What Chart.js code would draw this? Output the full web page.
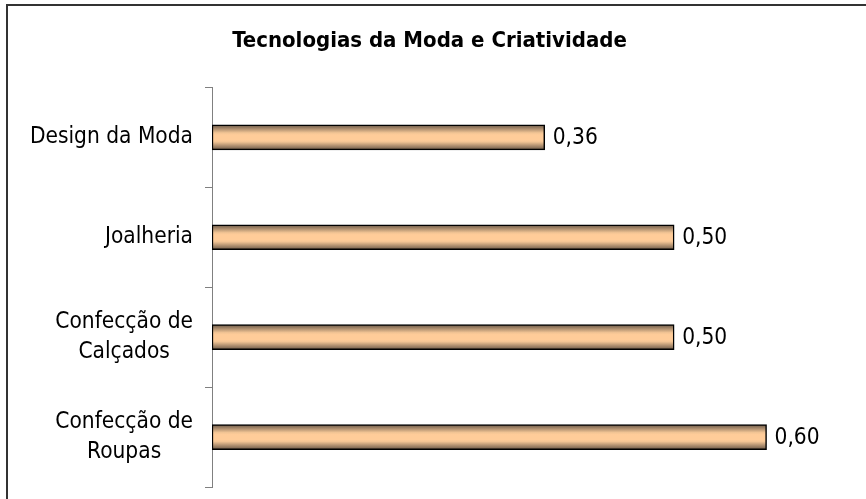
<!DOCTYPE html>
<html>
<head>
<meta charset="utf-8">
<script src="https://cdn.jsdelivr.net/npm/chart.js@4.4.1/dist/chart.umd.min.js"></script>
<style>
html,body{margin:0;padding:0;background:#fff;overflow:hidden;}
#frame{position:absolute;left:6px;top:4px;width:900px;height:560px;border:2px solid #333;pointer-events:none;}
#chart{position:absolute;left:0;top:0;}
</style>
</head>
<body>
<canvas id="chart" width="866" height="499"></canvas>
<div id="frame"></div>
<script>
/* data */
const categories = ["Design da Moda", "Joalheria", ["Confecção de", "Calçados"], ["Confecção de", "Roupas"]];
const values = [0.36, 0.50, 0.50, 0.60];
const chartTitle = "Tecnologias da Moda e Criatividade";

const FONT = "'DejaVu Sans Condensed', 'DejaVu Sans', sans-serif";
const BAR_H = 25;
const LABEL_SIZE = 22.5;
const LINE_H = 30;

/* striped bar fill, built per bar from the y scale */
function barFill(context) {
  const chart = context.chart;
  const area = chart.chartArea;
  if (!area) return "#FFCC99";
  const y = chart.scales.y.getPixelForValue(context.dataIndex);
  const g = chart.ctx.createLinearGradient(0, y - BAR_H / 2, 0, y + BAR_H / 2);
  g.addColorStop(0, "#6b5846");
  g.addColorStop(0.15, "#a88a6c");
  g.addColorStop(0.32, "#f2c494");
  g.addColorStop(0.4, "#ffcc99");
  g.addColorStop(0.6, "#ffcc99");
  g.addColorStop(0.68, "#f2c494");
  g.addColorStop(0.85, "#a88a6c");
  g.addColorStop(1, "#6b5846");
  return g;
}

/* category labels: block right aligned, lines centred inside the block */
const categoryLabels = {
  id: "categoryLabels",
  afterDraw(chart) {
    const ctx = chart.ctx;
    const yScale = chart.scales.y;
    const right = yScale.right - 19;
    ctx.save();
    ctx.font = LABEL_SIZE + "px " + FONT;
    ctx.fillStyle = "#000";
    ctx.textAlign = "center";
    ctx.textBaseline = "middle";
    categories.forEach((label, i) => {
      const lines = Array.isArray(label) ? label : [label];
      const w = Math.max(...lines.map(l => ctx.measureText(l).width));
      const cx = right - w / 2;
      const cy = yScale.getPixelForTick(i);
      const top = cy - (lines.length - 1) * LINE_H / 2;
      lines.forEach((l, k) => ctx.fillText(l, cx, top + k * LINE_H));
    });
    ctx.restore();
  }
};

/* value labels to the right of each bar */
const valueLabels = {
  id: "valueLabels",
  afterDatasetsDraw(chart) {
    const ctx = chart.ctx;
    const meta = chart.getDatasetMeta(0);
    ctx.save();
    ctx.font = LABEL_SIZE + "px " + FONT;
    ctx.fillStyle = "#000";
    ctx.textAlign = "left";
    ctx.textBaseline = "middle";
    meta.data.forEach((bar, i) => {
      const txt = values[i].toFixed(2).replace(".", ",");
      ctx.fillText(txt, bar.x + 8, bar.y + 1);
    });
    ctx.restore();
  }
};

new Chart(document.getElementById("chart"), {
  type: "bar",
  data: {
    labels: categories,
    datasets: [{
      data: values,
      backgroundColor: barFill,
      borderColor: "#000",
      borderWidth: 1.5,
      borderSkipped: false,
      barThickness: BAR_H
    }]
  },
  options: {
    indexAxis: "y",
    responsive: false,
    animation: false,
    layout: { padding: { top: 0, right: 7, bottom: 12, left: 0 } },
    plugins: {
      legend: { display: false },
      tooltip: { enabled: false },
      title: {
        display: true,
        text: chartTitle,
        color: "#000",
        font: { family: FONT, size: 22, weight: "bold" },
        padding: { top: 28, bottom: 33 }
      }
    },
    scales: {
      x: { display: false, min: 0, max: 0.7 },
      y: {
        afterFit: (scale) => {
          scale.width = 212;
          scale.paddingTop = 0;
          scale.paddingBottom = 0;
        },
        grid: { offset: true, drawOnChartArea: false, tickLength: 7, color: "#808080" },
        border: { color: "#808080", width: 1 },
        ticks: { display: false }
      }
    }
  },
  plugins: [valueLabels, categoryLabels]
});
</script>
</body>
</html>
